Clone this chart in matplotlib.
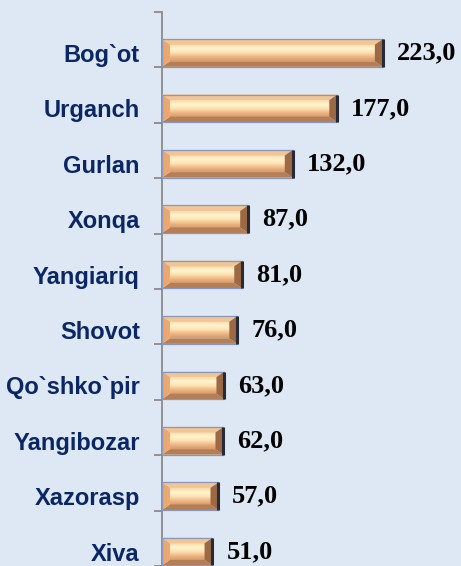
import numpy as np
import matplotlib.pyplot as plt
from matplotlib.patches import Polygon, Rectangle
from matplotlib.colors import LinearSegmentedColormap

# Data: tumanlar va qiymatlar (yuqoridan pastga)
tumanlar = ["Bog`ot", "Urganch", "Gurlan", "Xonqa", "Yangiariq",
            "Shovot", "Qo`shko`pir", "Yangibozar", "Xazorasp", "Xiva"]
qiymatlar = [223.0, 177.0, 132.0, 87.0, 81.0, 76.0, 63.0, 62.0, 57.0, 51.0]

W, H = 461, 566
bg = '#dde8f4'

fig = plt.figure(figsize=(W / 100, H / 100), dpi=100, facecolor=bg)
ax = fig.add_axes([162 / W, 0, (W - 162) / W, 554 / H])
ax.set_facecolor(bg)

ax.set_xlim(0, 302)
ax.set_ylim(9.26, -0.74)

# gradient for the inner face of each bar
grad_cmap = LinearSegmentedColormap.from_list(
    'bar', ['#f8d8aa', '#fff5cf', '#fde2b2', '#eeb685', '#d69b6a'])
grad = np.linspace(0, 1, 64).reshape(-1, 1)

h = 0.50     # bar thickness
bw = 8.0     # bevel width (x units)
bh = 0.10    # bevel height (y units)

for i, v in enumerate(qiymatlar):
    top = i - h / 2
    bot = i + h / 2

    # inner face
    ax.imshow(grad, cmap=grad_cmap, aspect='auto', interpolation='bicubic',
              extent=[bw, v - bw, bot - bh, top + bh], zorder=2)

    # bevel strips
    ax.add_patch(Polygon([(0, top), (v, top), (v - bw, top + bh), (bw, top + bh)],
                         closed=True, facecolor='#f2c595', edgecolor='none', zorder=3))
    ax.add_patch(Polygon([(0, bot), (v, bot), (v - bw, bot - bh), (bw, bot - bh)],
                         closed=True, facecolor='#b57e54', edgecolor='none', zorder=3))
    ax.add_patch(Polygon([(0, top), (bw, top + bh), (bw, bot - bh), (0, bot)],
                         closed=True, facecolor='#eca66f', edgecolor='none', zorder=3))
    ax.add_patch(Polygon([(v, top), (v - bw, top + bh), (v - bw, bot - bh), (v, bot)],
                         closed=True, facecolor='#9c6944', edgecolor='none', zorder=3))

    # outline + dark right edge
    ax.add_patch(Rectangle((0, top), v, h, facecolor='none',
                           edgecolor='#8898bc', linewidth=0.9, zorder=4))
    ax.plot([v, v], [top, bot], color='#262a38', linewidth=2.2, zorder=5,
            solid_capstyle='butt')

    # value label
    ax.text(v + 14, i, f"{v:.1f}".replace('.', ','), va='center', ha='left',
            fontsize=19, fontweight='bold', family='Liberation Serif',
            color='black', zorder=6)

# axes style
for s in ['top', 'right', 'bottom']:
    ax.spines[s].set_visible(False)
ax.spines['left'].set_color('#8a8a8a')
ax.spines['left'].set_linewidth(1.3)
ax.set_xticks([])

ax.set_yticks(range(len(tumanlar)))
ax.set_yticklabels(tumanlar, fontsize=17, fontweight='bold',
                   family='Liberation Sans', color='#0a2664')
ax.tick_params(axis='y', which='major', length=0, pad=16)

# small tick marks between categories
ax.set_yticks(np.arange(len(tumanlar) + 1) - 0.74, minor=True)
ax.tick_params(axis='y', which='minor', length=6, width=1.3,
               color='#8a8a8a', direction='out')

fig.savefig('out.png', dpi=100, facecolor=bg)
